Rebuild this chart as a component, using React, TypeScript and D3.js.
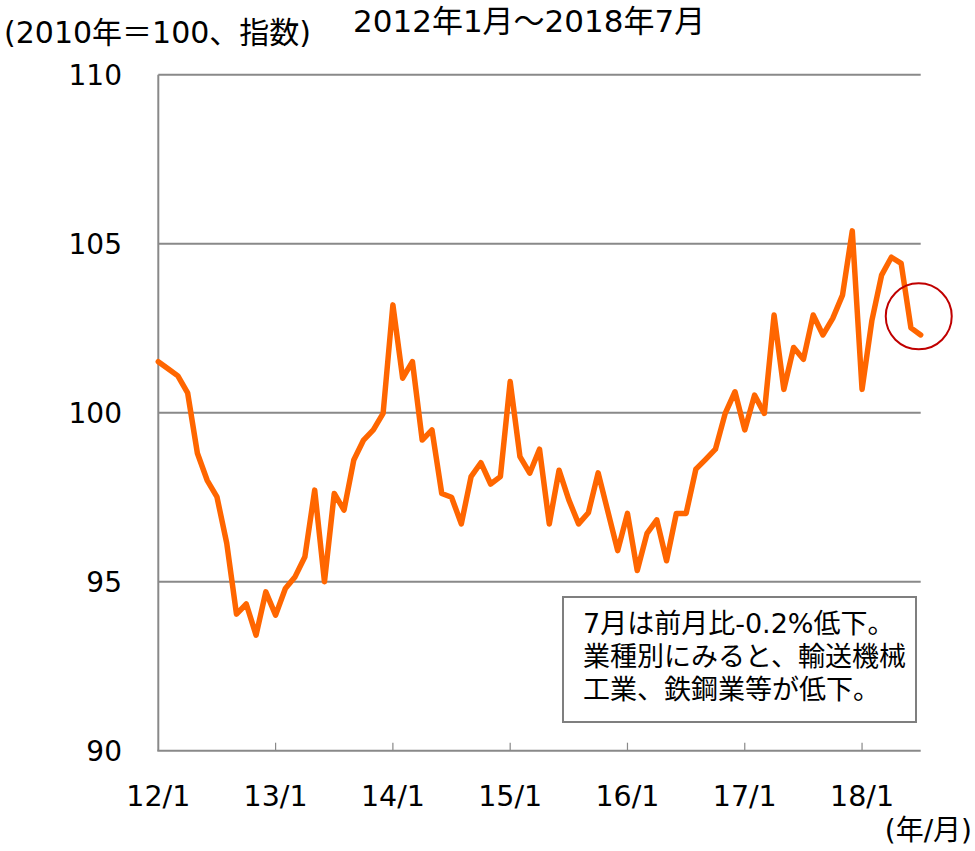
import React from 'react'
import * as d3 from 'd3'

// Monthly index values, 2012/1 .. 2018/7 (2010 = 100)
const values: number[] = [
  101.51, 101.3, 101.09, 100.59, 98.8, 98.0, 97.51, 96.14, 94.04, 94.34, 93.42, 94.7,
  94.01, 94.8, 95.15, 95.74, 97.71, 95.0, 97.61, 97.12, 98.6, 99.19, 99.49, 99.98,
  103.19, 101.02, 101.51, 99.19, 99.49, 97.61, 97.5, 96.71, 98.11, 98.52, 97.89, 98.11,
  100.92, 98.7, 98.21, 98.92, 96.71, 98.3, 97.42, 96.71, 97.04, 98.22, 97.07, 95.92,
  97.02, 95.33, 96.43, 96.83, 95.62, 97.02, 97.02, 98.33, 98.62, 98.92, 99.98, 100.62,
  99.49, 100.52, 99.98, 102.89, 100.69, 101.93, 101.58, 102.89, 102.3, 102.79, 103.48, 105.38,
  100.69, 102.72, 104.07, 104.6, 104.42, 102.51, 102.3,
]

const xTickLabels = ['12/1', '13/1', '14/1', '15/1', '16/1', '17/1', '18/1']
const yTicks = [90, 95, 100, 105, 110]

const unitLabel = '(2010年＝100、指数)'
const periodLabel = '2012年1月～2018年7月'
const axisUnit = '(年/月)'
const noteLines = ['7月は前月比-0.2%低下。', '業種別にみると、輸送機械', '工業、鉄鋼業等が低下。']

// highlighted spot around the latest months
const highlight = { month: 77.8, value: 102.85 }

const FONT = "'DejaVu Sans', 'Noto Sans CJK JP', sans-serif"

export default function App() {
  const width = 975
  const height = 851

  const x = d3.scaleLinear().domain([0, values.length - 1]).range([158.3, 920.7])
  const y = d3.scaleLinear().domain([90, 110]).range([750.7, 74.7])

  const line = d3
    .line<number>()
    .x((_, i) => x(i))
    .y((d) => y(d))

  const gridColor = '#898989'

  return (
    <svg
      width={width}
      height={height}
      style={{ position: 'absolute', left: 0, top: 0, background: '#fff' }}
      fontFamily={FONT}
    >
      {/* gridlines */}
      {yTicks.slice(1).map((t) => (
        <line key={t} x1={x(0)} x2={x(values.length - 1)} y1={y(t)} y2={y(t)} stroke={gridColor} strokeWidth={2} />
      ))}

      {/* axes */}
      <line x1={x(0)} x2={x(0)} y1={y(110)} y2={y(90)} stroke={gridColor} strokeWidth={2} />
      <line x1={x(0) - 1} x2={x(values.length - 1)} y1={y(90)} y2={y(90)} stroke={gridColor} strokeWidth={2} />
      {xTickLabels.slice(1).map((_, i) => (
        <line
          key={i}
          x1={x((i + 1) * 12)}
          x2={x((i + 1) * 12)}
          y1={y(90)}
          y2={y(90) - 8}
          stroke={gridColor}
          strokeWidth={1.2}
        />
      ))}

      {/* y labels */}
      {yTicks.map((t) => (
        <text key={t} x={122} y={y(t)} dy="0.36em" textAnchor="end" fontSize={28} fill="#000">
          {t}
        </text>
      ))}

      {/* x labels */}
      {xTickLabels.map((lab, i) => (
        <text key={lab} x={x(i * 12)} y={y(90) + 55} textAnchor="middle" fontSize={28.5} fill="#000">
          {lab}
        </text>
      ))}
      <text x={972} y={840} textAnchor="end" fontSize={28} fill="#000">
        {axisUnit}
      </text>

      {/* titles */}
      <text x={4} y={43} fontSize={30} fill="#000">
        {unitLabel}
      </text>
      <text x={353} y={32} fontSize={31} fill="#000">
        {periodLabel}
      </text>

      {/* series */}
      <path
        d={line(values) ?? ''}
        fill="none"
        stroke="#ff6600"
        strokeWidth={5.5}
        strokeLinejoin="round"
        strokeLinecap="round"
      />

      {/* highlight circle */}
      <circle cx={x(highlight.month)} cy={y(highlight.value)} r={33} fill="none" stroke="#c00000" strokeWidth={2} />

      {/* note box */}
      <rect x={563} y={597} width={353} height={125} fill="#fff" stroke="#7f7f7f" strokeWidth={2} />
      {noteLines.map((s, i) => (
        <text key={i} x={583} y={633 + i * 33} fontSize={27} fill="#000">
          {s}
        </text>
      ))}
    </svg>
  )
}
